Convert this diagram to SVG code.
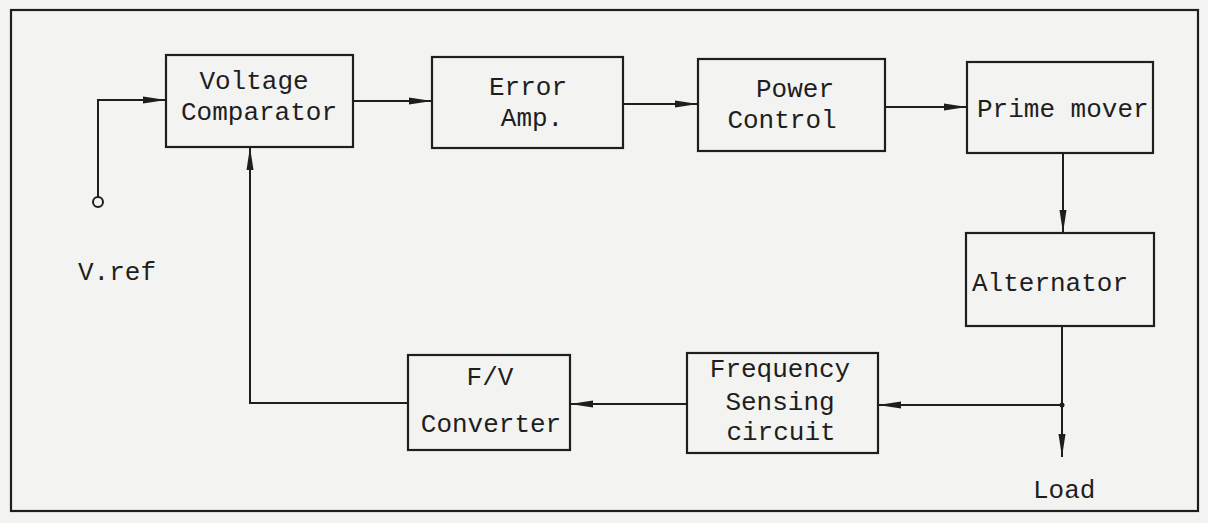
<svg xmlns="http://www.w3.org/2000/svg" width="1208" height="523" viewBox="0 0 1208 523">
<style>
.bg{fill:#f3f3f1}
.box{fill:none;stroke:#1e1e1e;stroke-width:2.2}
.ln{fill:none;stroke:#1e1e1e;stroke-width:2}
.t{font-family:"Liberation Mono","DejaVu Sans Mono",monospace;font-size:26px;fill:#1e1e1e}
.m{text-anchor:middle}
</style>
<defs>
<marker id="ah" markerWidth="24" markerHeight="10" refX="23" refY="5" orient="auto" markerUnits="userSpaceOnUse">
<path d="M0,1.5 L23,5 L0,8.5 Z" fill="#1e1e1e"/>
</marker>
</defs>
<rect class="bg" x="0" y="0" width="1208" height="523"/>
<rect id="frame" class="box" x="11" y="10" width="1187" height="501"/>
<g id="vref">
<circle cx="98" cy="202" r="5" fill="none" stroke="#1e1e1e" stroke-width="2"/>
<text class="t" x="78" y="280">V.ref</text>
</g>
<g id="voltage-comparator">
<rect class="box" x="166" y="55" width="187" height="92"/>
<text class="t m" x="254" y="89">Voltage</text>
<text class="t m" x="259" y="120">Comparator</text>
</g>
<g id="error-amp">
<rect class="box" x="432" y="57" width="191" height="91"/>
<text class="t m" x="528" y="95">Error</text>
<text class="t m" x="532" y="126">Amp.</text>
</g>
<g id="power-control">
<rect class="box" x="698" y="59" width="187" height="92"/>
<text class="t m" x="795" y="97">Power</text>
<text class="t m" x="782" y="128">Control</text>
</g>
<g id="prime-mover">
<rect class="box" x="967" y="62" width="186" height="91"/>
<text class="t" x="977" y="117">Prime mover</text>
</g>
<g id="alternator">
<rect class="box" x="966" y="233" width="188" height="93"/>
<text class="t" x="972" y="291">Alternator</text>
</g>
<g id="frequency-sensing">
<rect class="box" x="687" y="353" width="191" height="100"/>
<text class="t m" x="780" y="377">Frequency</text>
<text class="t m" x="780" y="410">Sensing</text>
<text class="t m" x="781" y="440">circuit</text>
</g>
<g id="fv-converter">
<rect class="box" x="408" y="355" width="162" height="95"/>
<text class="t m" x="490" y="385">F/V</text>
<text class="t m" x="491" y="432">Converter</text>
</g>
<g id="load">
<text class="t" x="1033" y="498">Load</text>
</g>
<g id="connectors">
<path class="ln" d="M98,197 L98,100 L166,100" marker-end="url(#ah)"/>
<path class="ln" d="M353,101 L432,101" marker-end="url(#ah)"/>
<path class="ln" d="M623,104 L698,104" marker-end="url(#ah)"/>
<path class="ln" d="M885,107 L967,107" marker-end="url(#ah)"/>
<path class="ln" d="M1063,153 L1063,233" marker-end="url(#ah)"/>
<path class="ln" d="M1062,326 L1062,457" marker-end="url(#ah)"/>
<path class="ln" d="M1062,405 L878,405" marker-end="url(#ah)"/>
<path class="ln" d="M687,404 L570,404" marker-end="url(#ah)"/>
<path class="ln" d="M408,403 L250,403 L250,147" marker-end="url(#ah)"/>
<circle cx="1062" cy="405" r="2.5" fill="#1e1e1e"/>
</g>
</svg>
